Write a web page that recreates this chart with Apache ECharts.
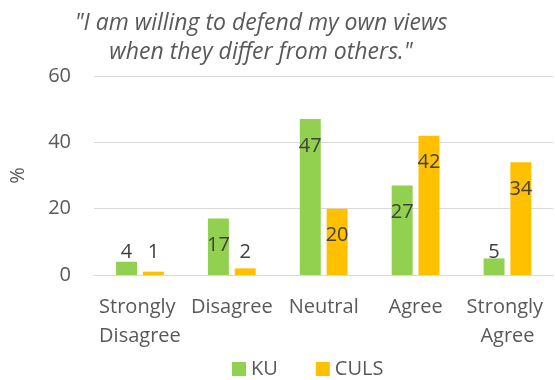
<!DOCTYPE html>
<html>
<head>
<meta charset="utf-8">
<script src="https://cdn.jsdelivr.net/npm/echarts@6/dist/echarts.min.js"></script>
<style>html,body{margin:0;padding:0;background:#fff}#c{width:555px;height:380px}</style>
</head>
<body>
<div id="c"></div>
<script>
const categories = ['Strongly Disagree', 'Disagree', 'Neutral', 'Agree', 'Strongly Agree'];
const kuValues = [4, 17, 47, 27, 5];
const culsValues = [1, 2, 20, 42, 34];
const yTicks = { min: 0, max: 60, interval: 20 };
const titleText = '"I am willing to defend my own views\nwhen they differ from others."';

const FONT = 'Open Sans';
function withLabels(values) {
  return values.map(v => ({
    value: v,
    label: v >= 16 ? { position: 'insideTop', distance: 17 } : { position: 'insideBottom', distance: 13 }
  }));
}
const chart = echarts.init(document.getElementById('c'), null, { renderer: 'canvas' });
chart.setOption({
  animation: false,
  textStyle: { fontFamily: FONT },
  title: {
    text: titleText,
    left: 256, top: 4, textAlign: 'center',
    textStyle: { fontFamily: FONT, fontStyle: 'italic', fontWeight: 'normal', fontSize: 23, color: '#595959', lineHeight: 29 }
  },
  grid: { left: 91, right: 0, top: 76, bottom: 105, containLabel: false },
  legend: {
    left: 227, top: 354, itemWidth: 14, itemHeight: 14, itemGap: 38,
    icon: 'rect',
    textStyle: { fontFamily: FONT, fontSize: 20, color: '#595959' },
    data: ['KU', 'CULS']
  },
  xAxis: {
    type: 'category', data: categories,
    axisLine: { lineStyle: { color: '#D9D9D9' } },
    axisTick: { show: false },
    axisLabel: { fontFamily: FONT, fontSize: 20, color: '#595959', lineHeight: 29, margin: 18, width: 90, overflow: 'break', interval: 0 }
  },
  yAxis: {
    type: 'value', min: yTicks.min, max: yTicks.max, interval: yTicks.interval,
    name: '%', nameLocation: 'middle', nameRotate: 90, nameGap: 66,
    nameTextStyle: { fontFamily: FONT, fontSize: 20, color: '#595959' },
    axisLine: { show: false }, axisTick: { show: false },
    axisLabel: { fontFamily: FONT, fontSize: 20, color: '#595959', margin: 23 },
    splitLine: { lineStyle: { color: '#D9D9D9', width: 1 } }
  },
  series: [
    { name: 'KU', type: 'bar', data: withLabels(kuValues), itemStyle: { color: '#92D050' },
      barGap: '28%', barCategoryGap: '48%',
      label: { show: true, fontFamily: FONT, fontSize: 20, color: '#404040' } },
    { name: 'CULS', type: 'bar', data: withLabels(culsValues), itemStyle: { color: '#FFC000' },
      barGap: '28%', barCategoryGap: '48%',
      label: { show: true, fontFamily: FONT, fontSize: 20, color: '#404040' } }
  ]
});
</script>
</body>
</html>
